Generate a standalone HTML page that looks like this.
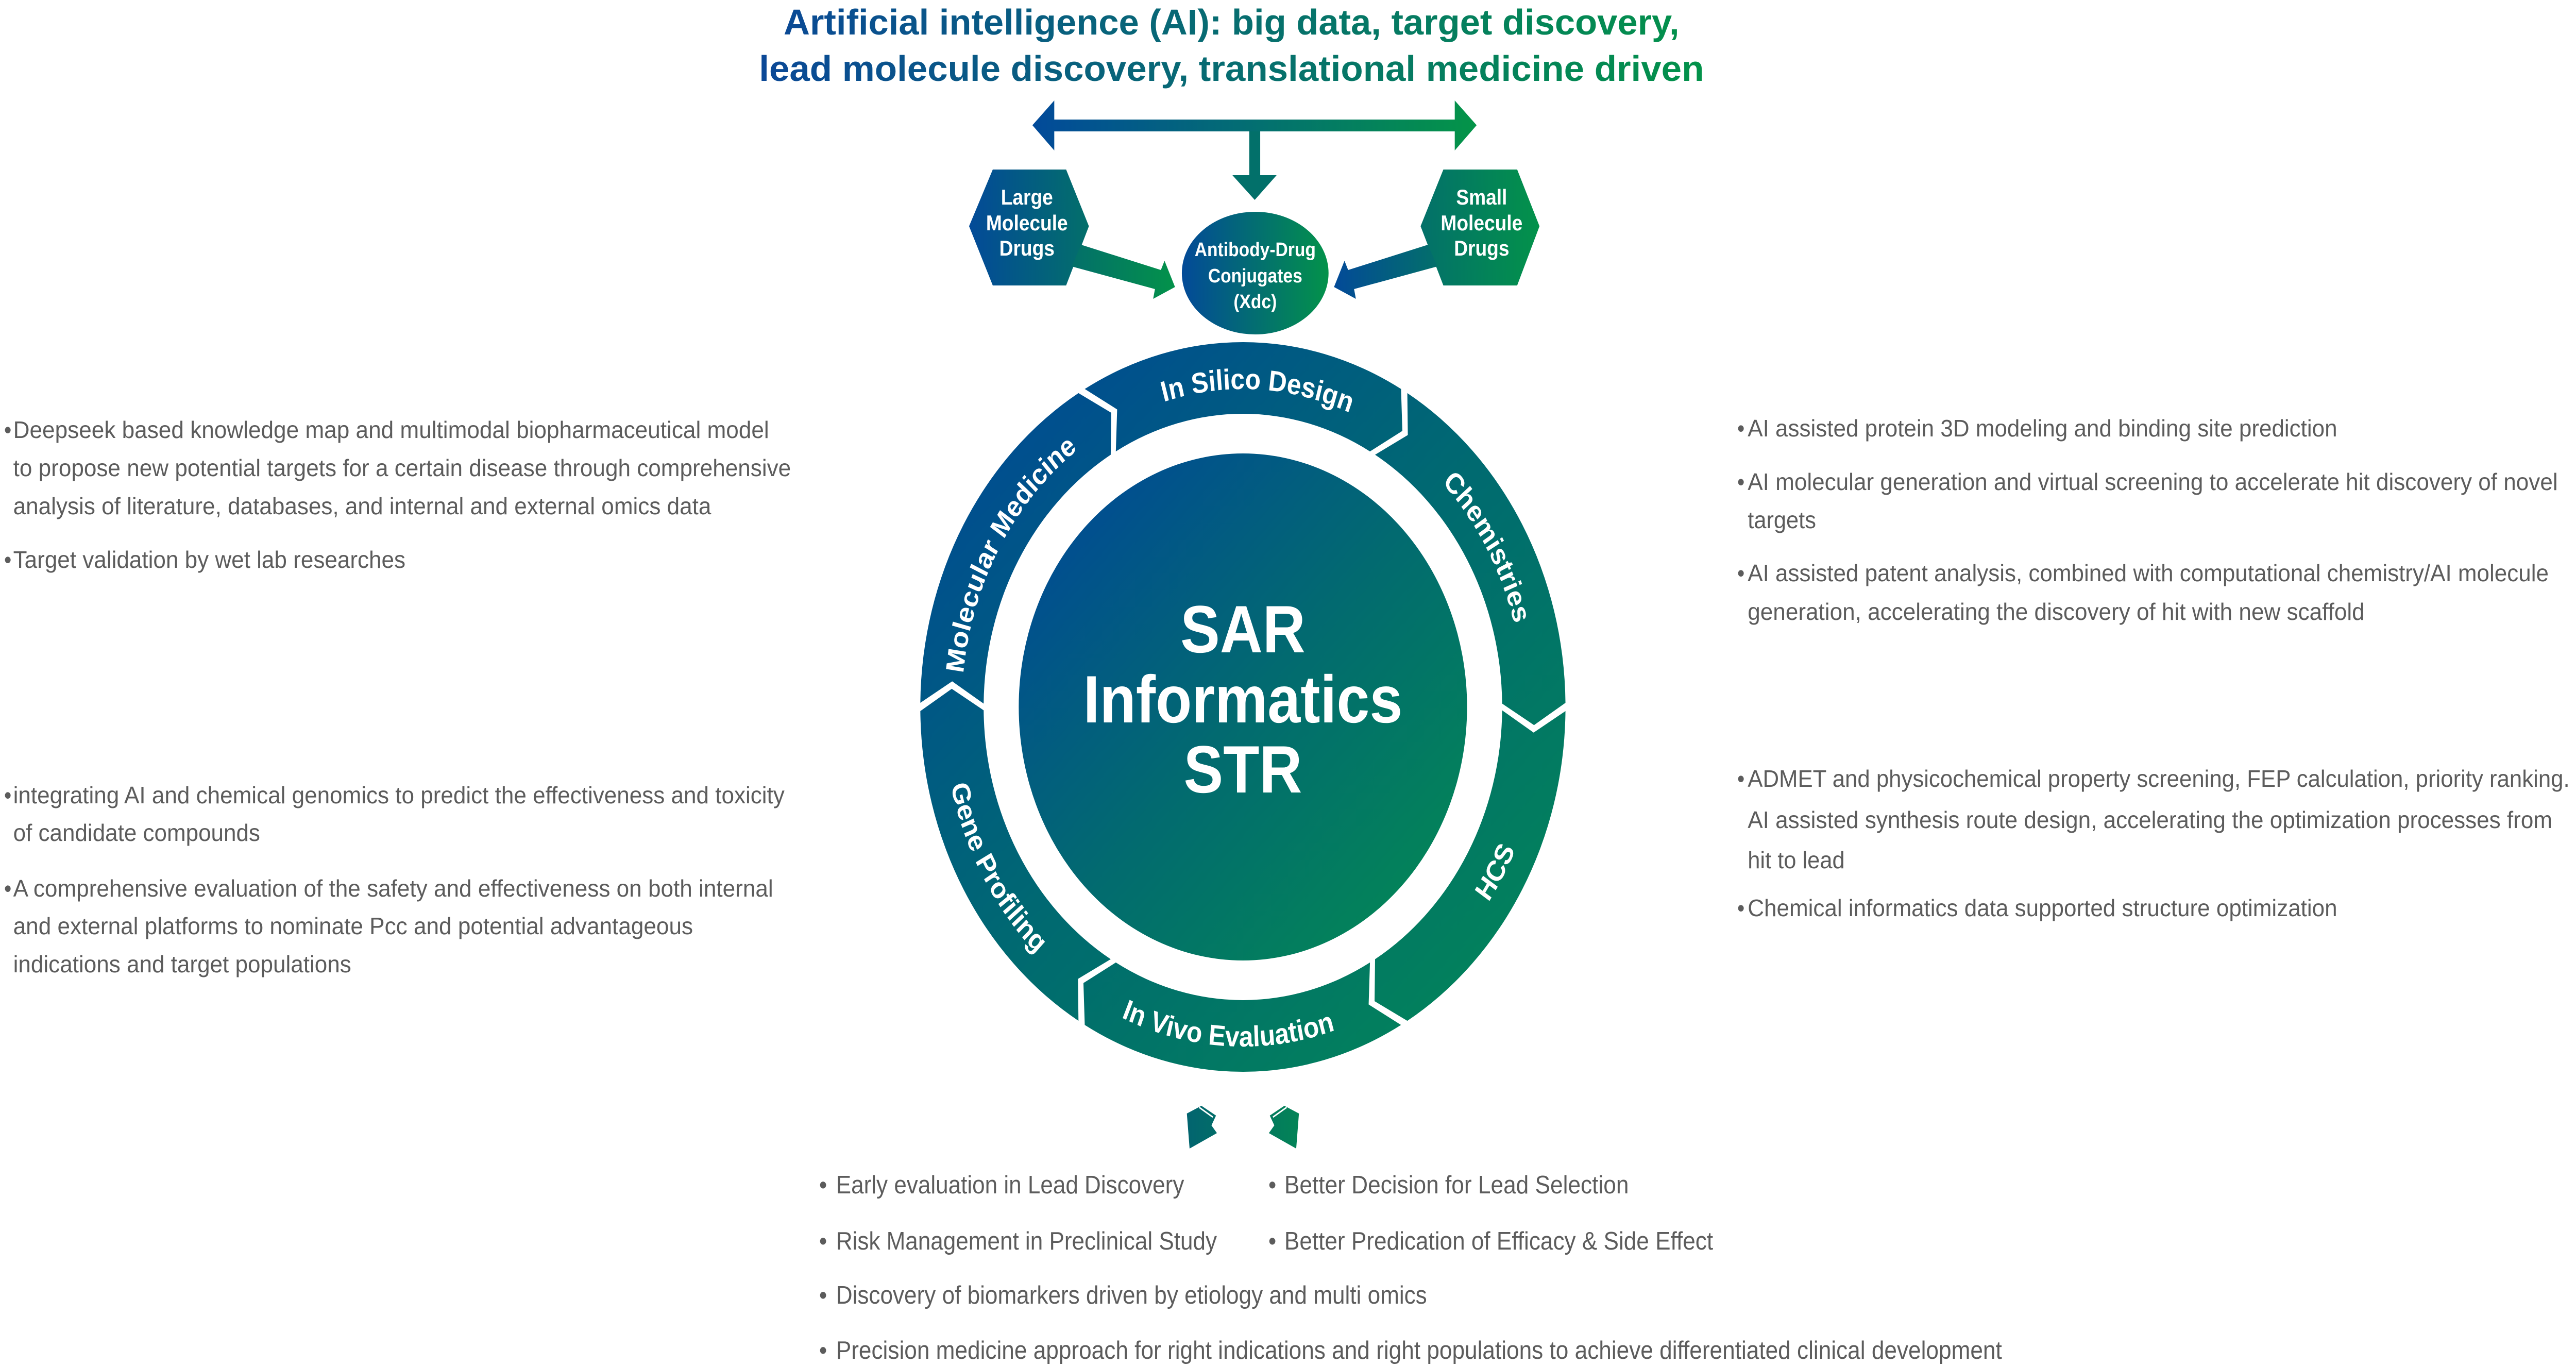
<!DOCTYPE html>
<html><head><meta charset="utf-8"><style>
html,body{margin:0;padding:0;background:#fff;width:100%;height:100%;overflow:hidden;}
svg{display:block;width:100vw;height:100vh;}
</style></head><body>
<svg viewBox="0 0 5654 2651" preserveAspectRatio="none" xmlns="http://www.w3.org/2000/svg" font-family="'Liberation Sans', sans-serif">
<defs>
<linearGradient id="tg" gradientUnits="userSpaceOnUse" x1="1666" y1="0" x2="3740" y2="0"><stop offset="0" stop-color="#0b4897"/><stop offset="1" stop-color="#03924a"/></linearGradient>
<linearGradient id="ag" gradientUnits="userSpaceOnUse" x1="2266" y1="0" x2="3241" y2="0"><stop offset="0" stop-color="#024a9a"/><stop offset="1" stop-color="#049448"/></linearGradient>
<linearGradient id="hl" gradientUnits="userSpaceOnUse" x1="2127" y1="0" x2="2390" y2="0"><stop offset="0" stop-color="#034a98"/><stop offset="1" stop-color="#036f6a"/></linearGradient>
<linearGradient id="hr" gradientUnits="userSpaceOnUse" x1="3118" y1="0" x2="3379" y2="0"><stop offset="0" stop-color="#03706a"/><stop offset="1" stop-color="#03924a"/></linearGradient>
<linearGradient id="la" gradientUnits="userSpaceOnUse" x1="2352" y1="0" x2="2579" y2="0"><stop offset="0" stop-color="#036f6a"/><stop offset="1" stop-color="#03924a"/></linearGradient>
<linearGradient id="ra" gradientUnits="userSpaceOnUse" x1="2928" y1="0" x2="3155" y2="0"><stop offset="0" stop-color="#034a98"/><stop offset="1" stop-color="#036f6a"/></linearGradient>
<linearGradient id="eg" gradientUnits="userSpaceOnUse" x1="2594" y1="0" x2="2916" y2="0"><stop offset="0" stop-color="#034a98"/><stop offset="1" stop-color="#03924a"/></linearGradient>
<linearGradient id="rg" gradientUnits="userSpaceOnUse" x1="2150" y1="760" x2="3330" y2="2000"><stop offset="0" stop-color="#004a94"/><stop offset="0.5" stop-color="#006a70"/><stop offset="1" stop-color="#038558"/></linearGradient>
<linearGradient id="cg" gradientUnits="userSpaceOnUse" x1="2380" y1="1020" x2="3080" y2="1720"><stop offset="0" stop-color="#014f8f"/><stop offset="0.5" stop-color="#026a70"/><stop offset="1" stop-color="#03825a"/></linearGradient>
<linearGradient id="ba" gradientUnits="userSpaceOnUse" x1="2605" y1="0" x2="2854" y2="0"><stop offset="0" stop-color="#02646f"/><stop offset="1" stop-color="#038456"/></linearGradient>
<path id="p1" d="M2356.7,879.3 A617,617 0 0 1 3148.8,920.7"/>
<path id="p2" d="M2939.0,792.2 A617,617 0 0 1 3335.6,1479.1"/>
<path id="p6" d="M2120.4,1479.1 A617,617 0 0 1 2517.0,792.2"/>
<path id="p4" d="M2278.6,1854.0 A659,659 0 0 0 3124.6,1898.3"/>
<path id="p5" d="M2079.0,1257.6 A659,659 0 0 0 2502.6,1991.3"/>
<path id="p3" d="M2953.4,1991.3 A659,659 0 0 0 3377.0,1257.6"/>
</defs>

<g font-weight="bold" font-size="70" fill="url(#tg)">
<text x="1720" y="67" textLength="1966" lengthAdjust="spacingAndGlyphs">Artificial intelligence (AI): big data, target discovery,</text>
<text x="1666" y="157" textLength="2074" lengthAdjust="spacingAndGlyphs">lead molecule discovery, translational medicine driven</text>
</g>

<polygon fill="url(#ag)" points="2266,243 2314,195 2314,232 3193,232 3193,195 3241,243 3193,292 3193,255 2314,255 2314,292"/>
<polygon fill="#02706a" points="2742,255 2766,255 2766,340 2802,340 2754,388 2705,340 2742,340"/>

<polygon fill="url(#hl)" points="2179,329 2340,329 2390,439 2340,554 2179,554 2127,439"/>
<polygon fill="url(#hr)" points="3168,329 3330,329 3379,439 3330,554 3168,554 3118,439"/>
<g fill="#fff" font-weight="bold" font-size="42" text-anchor="middle">
<text x="2254" y="397">Large</text><text x="2254" y="447">Molecule</text><text x="2254" y="496">Drugs</text>
<text x="3252" y="397">Small</text><text x="3252" y="447">Molecule</text><text x="3252" y="496">Drugs</text>
</g>
<polygon fill="url(#la)" points="2373,475 2548,524 2556,506 2579,557 2531,580 2535,561 2352,517"/>
<polygon fill="url(#ra)" points="3134,475 2959,524 2951,506 2928,557 2976,580 2972,561 3155,517"/>
<ellipse cx="2755" cy="530" rx="161" ry="119" fill="url(#eg)"/>
<g fill="#fff" font-weight="bold" font-size="38" text-anchor="middle">
<text x="2755" y="497">Antibody-Drug</text><text x="2755" y="548">Conjugates</text><text x="2755" y="598">(Xdc)</text>
</g>

<g fill="url(#rg)">
<path d="M2380.9,754.9 A708,708 0 0 1 3075.1,754.9 L3078.0,836.2 L3006.9,876.1 A569,569 0 0 0 2449.1,876.1 L2452.0,794.6 Z"/>
<path d="M3088.9,762.9 A708,708 0 0 1 3436.0,1364.0 L3367.0,1407.2 L3297.0,1365.5 A569,569 0 0 0 3018.1,882.5 L3090.0,844.3 Z"/>
<path d="M3436.0,1380.0 A708,708 0 0 1 3088.9,1981.1 L3017.0,1943.0 L3018.1,1861.5 A569,569 0 0 0 3297.0,1378.5 L3366.1,1421.7 Z"/>
<path d="M3075.1,1989.1 A708,708 0 0 1 2380.9,1989.1 L2378.0,1907.8 L2449.1,1867.9 A569,569 0 0 0 3006.9,1867.9 L3004.0,1949.4 Z"/>
<path d="M2367.1,1981.1 A708,708 0 0 1 2020.0,1380.0 L2089.0,1336.8 L2159.0,1378.5 A569,569 0 0 0 2437.9,1861.5 L2366.0,1899.7 Z"/>
<path d="M2020.0,1364.0 A708,708 0 0 1 2367.1,762.9 L2439.0,801.0 L2437.9,882.5 A569,569 0 0 0 2159.0,1365.5 L2089.9,1322.3 Z"/>
</g>
<g fill="#fff" font-weight="bold" font-size="56" text-anchor="middle">
<text><textPath href="#p1" startOffset="50%">In Silico Design</textPath></text>
<text><textPath href="#p2" startOffset="50%">Chemistries</textPath></text>
<text><textPath href="#p6" startOffset="50%">Molecular Medicine</textPath></text>
<text><textPath href="#p4" startOffset="50%">In Vivo Evaluation</textPath></text>
<text><textPath href="#p5" startOffset="50%">Gene Profiling</textPath></text>
<text><textPath href="#p3" startOffset="50%">HCS</textPath></text>
</g>
<circle cx="2728" cy="1372" r="492" fill="url(#cg)"/>
<g fill="#fff" font-weight="bold" font-size="130" text-anchor="middle">
<text x="2728" y="1266">SAR</text><text x="2728" y="1402">Informatics</text><text x="2728" y="1538">STR</text>
</g>

<polygon fill="url(#ba)" points="2605,2161 2637,2146 2669,2165 2659,2184 2671,2199 2611,2229"/>
<polygon fill="url(#ba)" points="2851,2161 2819,2146 2787,2165 2797,2184 2785,2199 2845,2229"/>
<g stroke="#fff" stroke-width="3"><line x1="2632" y1="2149" x2="2662" y2="2168"/><line x1="2824" y1="2149" x2="2794" y2="2168"/></g>

<g fill="#5c5c5c" font-size="46">
<text x="9" y="850">•</text><text x="29" y="850" textLength="1659" lengthAdjust="spacingAndGlyphs">Deepseek based knowledge map and multimodal biopharmaceutical model</text>
<text x="29" y="924" textLength="1707" lengthAdjust="spacingAndGlyphs">to propose new potential targets for a certain disease through comprehensive</text>
<text x="29" y="998" textLength="1532" lengthAdjust="spacingAndGlyphs">analysis of literature, databases, and internal and external omics data</text>
<text x="9" y="1102">•</text><text x="29" y="1102" textLength="861" lengthAdjust="spacingAndGlyphs">Target validation by wet lab researches</text>
<text x="9" y="1559">•</text><text x="29" y="1559" textLength="1693" lengthAdjust="spacingAndGlyphs">integrating AI and chemical genomics to predict the effectiveness and toxicity</text>
<text x="29" y="1632" textLength="542" lengthAdjust="spacingAndGlyphs">of candidate compounds</text>
<text x="9" y="1740">•</text><text x="29" y="1740" textLength="1668" lengthAdjust="spacingAndGlyphs">A comprehensive evaluation of the safety and effectiveness on both internal</text>
<text x="29" y="1813" textLength="1492" lengthAdjust="spacingAndGlyphs">and external platforms to nominate Pcc and potential advantageous</text>
<text x="29" y="1887" textLength="742" lengthAdjust="spacingAndGlyphs">indications and target populations</text>
</g>

<g fill="#5c5c5c" font-size="46">
<text x="3813" y="847">•</text><text x="3836" y="847" textLength="1294" lengthAdjust="spacingAndGlyphs">AI assisted protein 3D modeling and binding site prediction</text>
<text x="3813" y="951">•</text><text x="3836" y="951" textLength="1778" lengthAdjust="spacingAndGlyphs">AI molecular generation and virtual screening to accelerate hit discovery of novel</text>
<text x="3836" y="1025" textLength="150" lengthAdjust="spacingAndGlyphs">targets</text>
<text x="3813" y="1128">•</text><text x="3836" y="1128" textLength="1758" lengthAdjust="spacingAndGlyphs">AI assisted patent analysis, combined with computational chemistry/AI molecule</text>
<text x="3836" y="1203" textLength="1354" lengthAdjust="spacingAndGlyphs">generation, accelerating the discovery of hit with new scaffold</text>
<text x="3813" y="1527">•</text><text x="3836" y="1527" textLength="1804" lengthAdjust="spacingAndGlyphs">ADMET and physicochemical property screening, FEP calculation, priority ranking.</text>
<text x="3836" y="1607" textLength="1766" lengthAdjust="spacingAndGlyphs">AI assisted synthesis route design, accelerating the optimization processes from</text>
<text x="3836" y="1685" textLength="213" lengthAdjust="spacingAndGlyphs">hit to lead</text>
<text x="3813" y="1778">•</text><text x="3836" y="1778" textLength="1294" lengthAdjust="spacingAndGlyphs">Chemical informatics data supported structure optimization</text>
</g>

<g fill="#5c5c5c" font-size="49">
<text x="1798" y="2316">•</text><text x="1835" y="2316" textLength="764" lengthAdjust="spacingAndGlyphs">Early evaluation in Lead Discovery</text>
<text x="2784" y="2316">•</text><text x="2819" y="2316" textLength="756" lengthAdjust="spacingAndGlyphs">Better Decision for Lead Selection</text>
<text x="1798" y="2425">•</text><text x="1835" y="2425" textLength="836" lengthAdjust="spacingAndGlyphs">Risk Management in Preclinical Study</text>
<text x="2784" y="2425">•</text><text x="2819" y="2425" textLength="941" lengthAdjust="spacingAndGlyphs">Better Predication of Efficacy &amp; Side Effect</text>
<text x="1798" y="2530">•</text><text x="1835" y="2530" textLength="1297" lengthAdjust="spacingAndGlyphs">Discovery of biomarkers driven by etiology and multi omics</text>
<text x="1798" y="2637">•</text><text x="1835" y="2637" textLength="2559" lengthAdjust="spacingAndGlyphs">Precision medicine approach for right indications and right populations to achieve differentiated clinical development</text>
</g>
</svg>
</body></html>
